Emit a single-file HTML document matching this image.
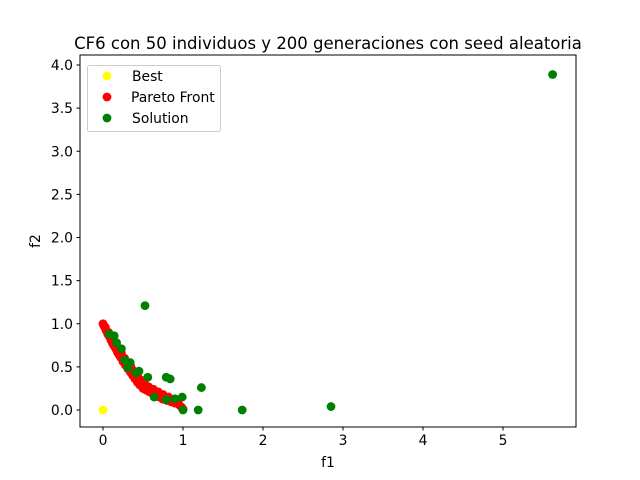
<!DOCTYPE html>
<html><head><meta charset="utf-8"><style>
body{margin:0;background:#fff;}
svg{display:block;font-family:"DejaVu Sans","Liberation Sans",sans-serif;}
</style></head><body>
<svg id="chart" width="640" height="480" viewBox="0 0 640 480">
<rect width="640" height="480" fill="#fff"/>
<text x="328" y="49" text-anchor="middle" font-size="16.5">CF6 con 50 individuos y 200 generaciones con seed aleatoria</text>
<g id="plot"></g>
<rect x="80" y="55" width="496" height="372" fill="none" stroke="#000" stroke-width="1"/>
<g id="xticks"></g>
<g id="yticks"></g>
<text x="328" y="467" text-anchor="middle" font-size="13.9">f1</text>
<text x="0" y="0" text-anchor="middle" font-size="13.9" transform="translate(40,241) rotate(-90)">f2</text>
<g>
<rect x="87.5" y="65.5" width="133" height="66" rx="2" fill="#fff" fill-opacity="0.8" stroke="#ccc"/>
<g><circle cx="107" cy="76" r="4.4" fill="yellow"/><text x="132" y="81" font-size="13.9">Best</text></g>
<g><circle cx="107" cy="97" r="4.4" fill="red"/><text x="131" y="102" font-size="13.9">Pareto Front</text></g>
<g><circle cx="107" cy="118" r="4.4" fill="green"/><text x="132" y="123" font-size="13.9">Solution</text></g>
</g>
</svg>
<script>
const xTicks=[0,1,2,3,4,5];
const yTicks=[0.0,0.5,1.0,1.5,2.0,2.5,3.0,3.5,4.0];
const paretoF1=[0,0.01,0.02,0.04,0.06,0.08,0.1,0.12,0.14,0.16,0.18,0.2,0.22,0.25,0.28,0.31,0.34,0.37,0.4,0.43,0.46,0.5,0.54,0.58,0.62,0.66,0.7,0.75,0.8,0.85,0.9,0.95,0.98,1.0,
  0.03,0.07,0.11,0.15,0.19,0.23,0.27,0.31,0.35,0.39,0.43,0.47,0.52,0.57,0.63,0.69,0.75,0.82,0.88,0.94];
const paretoF2=[1,0.98,0.96,0.92,0.88,0.85,0.81,0.77,0.74,0.71,0.67,0.64,0.61,0.56,0.52,0.48,0.44,0.4,0.36,0.32,0.29,0.25,0.23,0.21,0.19,0.17,0.15,0.125,0.11,0.095,0.08,0.06,0.035,0.01,
  0.96,0.9,0.84,0.78,0.72,0.66,0.6,0.55,0.5,0.45,0.4,0.35,0.3,0.27,0.24,0.21,0.18,0.15,0.12,0.09];
const solF1=[0.525,0.08,0.14,0.17,0.23,0.27,0.34,0.31,0.41,0.45,0.56,0.79,0.84,1.23,0.64,0.79,0.9,0.99,1.0,1.19,1.74,2.85,5.62];
const solF2=[1.21,0.88,0.86,0.78,0.71,0.58,0.55,0.49,0.43,0.45,0.38,0.38,0.36,0.26,0.15,0.12,0.13,0.15,0.0,0.0,0.0,0.04,3.89];
const bestF1=[0];
const bestF2=[0];
const X=v=>103+v*80;
const Y=v=>410-v*86.25;
const NS='http://www.w3.org/2000/svg';
const plot=document.getElementById('plot');
function dot(x,y,c,name){
  const e=document.createElementNS(NS,'circle');
  e.setAttribute('cx',X(x));e.setAttribute('cy',Y(y));e.setAttribute('r',4.4);e.setAttribute('fill',c);
  
  
  plot.appendChild(e);
}
bestF1.forEach((v,i)=>dot(v,bestF2[i],'yellow','best-point'));
paretoF1.forEach((v,i)=>dot(v,paretoF2[i],'red','pareto-point'));
solF1.forEach((v,i)=>dot(v,solF2[i],'green','solution-point'));
const xg=document.getElementById('xticks');
xTicks.forEach(t=>{
  const g=document.createElementNS(NS,'g');
  
  
  g.innerHTML=`<line x1="${X(t)}" x2="${X(t)}" y1="427" y2="430.5" stroke="#000"/><text x="${X(t)}" y="445" text-anchor="middle" font-size="13.9">${t}</text>`;
  xg.appendChild(g);
});
const yg=document.getElementById('yticks');
yTicks.forEach(t=>{
  const g=document.createElementNS(NS,'g');
  
  
  g.innerHTML=`<line x1="76.5" x2="80" y1="${Y(t)}" y2="${Y(t)}" stroke="#000"/><text x="73" y="${Y(t)+5}" text-anchor="end" font-size="13.9">${t.toFixed(1)}</text>`;
  yg.appendChild(g);
});
</script>
</body></html>
